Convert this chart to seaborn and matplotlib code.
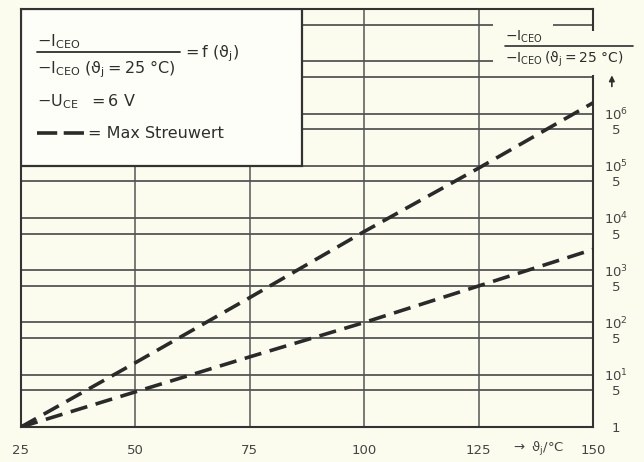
import matplotlib
matplotlib.use("Agg")
import matplotlib.pyplot as plt
import seaborn as sns
import pandas as pd
from matplotlib.patches import Rectangle

# Sperrschichttemperatur / °C
theta = [25, 50, 75, 100, 125, 150]
# relative Reststroeme
steil = [1, 17, 300, 5500, 90000, 1.6e6]
flach = [1, 4.7, 22, 100, 500, 2500]

x_ticks = [25, 50, 75, 100, 125, 150]
x_labels = ["25", "50", "75", "100", "125", "150"]
y_ticks = [1, 5, 10, 50, 100, 500, 1e3, 5e3, 1e4, 5e4, 1e5, 5e5, 1e6]
y_labels = ["1", "5", "$10^1$", "5", "$10^2$", "5", "$10^3$", "5",
            "$10^4$", "5", "$10^5$", "5", "$10^6$"]
y_grid_extra = [5e6, 1e7, 5e7]

bg = "#fcfcee"
ink = "#333333"

sns.set_style("white")
plt.rcParams["font.family"] = ["DejaVu Sans"]
plt.rcParams["mathtext.default"] = "regular"

df = pd.DataFrame({
    "theta": theta * 2,
    "wert": steil + flach,
    "kurve": ["steil"] * len(theta) + ["flach"] * len(theta),
})

fig = plt.figure(figsize=(6.44, 4.62), dpi=100, facecolor=bg)
ax = fig.add_axes([0.0326, 0.0758, 0.8882, 0.9047])
ax.set_facecolor(bg)

sns.lineplot(data=df, x="theta", y="wert", style="kurve",
             dashes={"steil": (4.8, 2.4), "flach": (4.8, 2.4)},
             color="#2a2a2a", linewidth=2.6, legend=False, ax=ax, zorder=4)

ax.set_yscale("log")
ax.set_xlim(25, 150)
ax.set_ylim(1, 1e8)
ax.set_xticks(x_ticks)
ax.set_xticklabels(x_labels)
ax.set_yticks(y_ticks)
ax.set_yticklabels(y_labels)
ax.set_yticks(y_grid_extra, minor=True)
ax.set_yticklabels([], minor=True)
ax.set_xlabel("")
ax.set_ylabel("")

ax.tick_params(axis="y", which="both", left=False, labelleft=False,
               right=False, labelright=True, length=0, pad=16.5,
               labelsize=9.5, colors="#444444")
ax.tick_params(axis="x", length=0, pad=12, labelsize=9.5, colors="#444444")
for lab in ax.get_yticklabels():
    lab.set_horizontalalignment("center")

ax.grid(True, which="both", axis="y", color="#555555", linewidth=1.3)
ax.grid(True, which="major", axis="x", color="#555555", linewidth=1.1)
for s in ax.spines.values():
    s.set_color(ink)
    s.set_linewidth(1.5)

# Kasten mit Beschriftung oben links
ax.add_patch(Rectangle((25, 1e5), 61.4, 1e8 - 1e5, facecolor="#fefef8",
                       edgecolor=ink, linewidth=1.6, zorder=5))
tk = dict(transform=ax.transAxes, color="#2e2e2e", zorder=6, fontsize=11.5,
          va="center", ha="left")
ax.text(0.028, 0.923, "$-I_{CEO}$", **tk)
ax.plot([0.028, 0.278], [0.898, 0.898], transform=ax.transAxes,
        color="#2e2e2e", linewidth=1.3, zorder=6)
ax.text(0.028, 0.856, r"$-I_{CEO}\ (\vartheta_j = 25\ °C)$", **tk)
ax.text(0.281, 0.892, r"$= f\ (\vartheta_j)$", **tk)
ax.text(0.028, 0.778, "$-U_{CE}\\ \\ = 6\\ V$", **tk)
ax.plot([0.028, 0.110], [0.703, 0.703], transform=ax.transAxes,
        color="#2a2a2a", linewidth=2.6, dashes=(5.6, 1.8), zorder=6)
ax.text(0.117, 0.703, "= Max Streuwert", **tk)

# Beschriftung der y-Achse oben rechts
ax.add_patch(Rectangle((0.825, 0.841), 0.2, 0.107, transform=ax.transAxes,
                       facecolor=bg, edgecolor="none", zorder=3, clip_on=False))
ax.add_patch(Rectangle((0.825, 0.94), 0.105, 0.03, transform=ax.transAxes,
                       facecolor=bg, edgecolor="none", zorder=3, clip_on=False))
tr = dict(transform=ax.transAxes, color="#2e2e2e", zorder=6, fontsize=10,
          va="center", ha="left", clip_on=False)
ax.text(0.846, 0.934, "$-I_{CEO}$", **tr)
ax.plot([0.846, 1.07], [0.911, 0.911], transform=ax.transAxes,
        color="#2e2e2e", linewidth=1.2, zorder=6, clip_on=False)
ax.text(0.846, 0.880, r"$-I_{CEO}\,(\vartheta_j = 25\ °C)$", **tr)
ax.annotate("", xy=(1.033, 0.848), xytext=(1.033, 0.808),
            xycoords="axes fraction",
            arrowprops=dict(arrowstyle="-|>", color="#2e2e2e", lw=1.2,
                            mutation_scale=8), annotation_clip=False)

# Beschriftung der x-Achse
ax.text(0.856, -0.052, r"$\rightarrow\ \vartheta_j/°C$", transform=ax.transAxes,
        color="#444444", fontsize=9.5, va="center", ha="left")

fig.savefig("out.png", dpi=100, facecolor=bg)
